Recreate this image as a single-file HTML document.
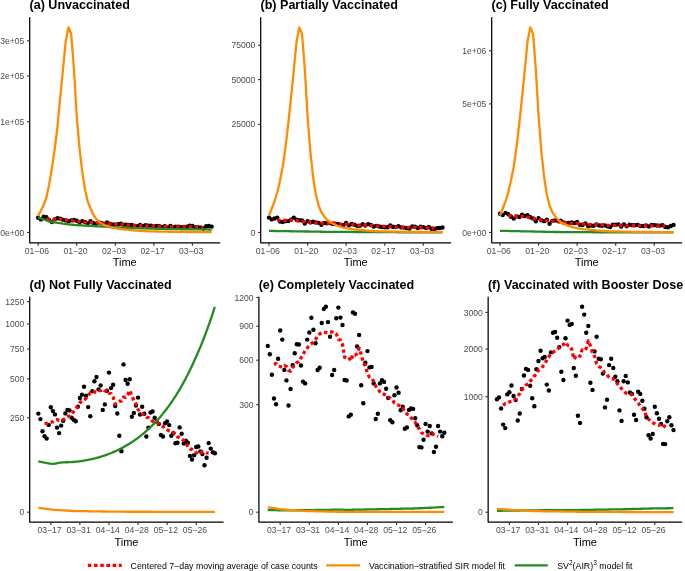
<!DOCTYPE html>
<html><head><meta charset="utf-8"><title>Figure</title>
<style>
html,body{margin:0;padding:0;background:#fff;}
body{width:685px;height:571px;overflow:hidden;}
svg{display:block;will-change:transform;}
text{font-family:"Liberation Sans", sans-serif;}
.tk{font-size:8.6px;fill:#4D4D4D;}
.at{font-size:11px;fill:#000;}
.ti{font-size:12.55px;font-weight:bold;fill:#000;}
.lg{font-size:8.8px;fill:#000;}
.sup{font-size:6.6px;}
</style></head><body>
<svg width="685" height="571" viewBox="0 0 685 571">
<rect width="685" height="571" fill="#fff"/>
<path d="M29.70 17.50 V242.75 H219.75" fill="none" stroke="#000" stroke-width="1.25" stroke-linecap="round" stroke-linejoin="round"/>
<line x1="27.06" y1="232.45" x2="29.70" y2="232.45" stroke="#333333" stroke-width="1.15"/>
<text x="24.30" y="235.60" text-anchor="end" class="tk">0e+00</text>
<line x1="27.06" y1="121.70" x2="29.70" y2="121.70" stroke="#333333" stroke-width="1.15"/>
<text x="24.30" y="124.85" text-anchor="end" class="tk">1e+05</text>
<line x1="27.06" y1="75.90" x2="29.70" y2="75.90" stroke="#333333" stroke-width="1.15"/>
<text x="24.30" y="79.05" text-anchor="end" class="tk">2e+05</text>
<line x1="27.06" y1="40.80" x2="29.70" y2="40.80" stroke="#333333" stroke-width="1.15"/>
<text x="24.30" y="43.95" text-anchor="end" class="tk">3e+05</text>
<line x1="38.15" y1="242.75" x2="38.15" y2="245.65" stroke="#333333" stroke-width="1.15"/>
<text x="36.90" y="254.05" text-anchor="middle" class="tk">01−06</text>
<line x1="76.71" y1="242.75" x2="76.71" y2="245.65" stroke="#333333" stroke-width="1.15"/>
<text x="75.46" y="254.05" text-anchor="middle" class="tk">01−20</text>
<line x1="115.28" y1="242.75" x2="115.28" y2="245.65" stroke="#333333" stroke-width="1.15"/>
<text x="114.03" y="254.05" text-anchor="middle" class="tk">02−03</text>
<line x1="153.84" y1="242.75" x2="153.84" y2="245.65" stroke="#333333" stroke-width="1.15"/>
<text x="152.59" y="254.05" text-anchor="middle" class="tk">02−17</text>
<line x1="192.40" y1="242.75" x2="192.40" y2="245.65" stroke="#333333" stroke-width="1.15"/>
<text x="191.15" y="254.05" text-anchor="middle" class="tk">03−03</text>
<text x="124.72" y="266.45" text-anchor="middle" class="at">Time</text>
<text x="29.50" y="9.00" class="ti">(a) Unvaccinated</text>
<g fill="#000">
<circle cx="38.15" cy="217.70" r="2.20"/>
<circle cx="40.90" cy="219.40" r="2.20"/>
<circle cx="43.66" cy="216.80" r="2.20"/>
<circle cx="46.41" cy="217.30" r="2.20"/>
<circle cx="49.17" cy="220.30" r="2.20"/>
<circle cx="51.92" cy="222.10" r="2.20"/>
<circle cx="54.68" cy="219.40" r="2.20"/>
<circle cx="57.43" cy="218.29" r="2.20"/>
<circle cx="60.19" cy="218.80" r="2.20"/>
<circle cx="62.94" cy="219.65" r="2.20"/>
<circle cx="65.69" cy="220.39" r="2.20"/>
<circle cx="68.45" cy="221.08" r="2.20"/>
<circle cx="71.20" cy="220.38" r="2.20"/>
<circle cx="73.96" cy="219.90" r="2.20"/>
<circle cx="76.71" cy="220.74" r="2.20"/>
<circle cx="79.47" cy="222.62" r="2.20"/>
<circle cx="82.22" cy="221.08" r="2.20"/>
<circle cx="84.98" cy="221.96" r="2.20"/>
<circle cx="87.73" cy="223.40" r="2.20"/>
<circle cx="90.49" cy="221.22" r="2.20"/>
<circle cx="93.24" cy="222.89" r="2.20"/>
<circle cx="95.99" cy="223.96" r="2.20"/>
<circle cx="98.75" cy="222.24" r="2.20"/>
<circle cx="101.50" cy="223.20" r="2.20"/>
<circle cx="104.26" cy="224.28" r="2.20"/>
<circle cx="107.01" cy="222.44" r="2.20"/>
<circle cx="109.77" cy="223.64" r="2.20"/>
<circle cx="112.52" cy="224.52" r="2.20"/>
<circle cx="115.28" cy="224.62" r="2.20"/>
<circle cx="118.03" cy="224.32" r="2.20"/>
<circle cx="120.78" cy="223.81" r="2.20"/>
<circle cx="123.54" cy="224.72" r="2.20"/>
<circle cx="126.29" cy="224.59" r="2.20"/>
<circle cx="129.05" cy="225.04" r="2.20"/>
<circle cx="131.80" cy="224.84" r="2.20"/>
<circle cx="134.56" cy="226.16" r="2.20"/>
<circle cx="137.31" cy="226.11" r="2.20"/>
<circle cx="140.07" cy="225.06" r="2.20"/>
<circle cx="142.82" cy="225.87" r="2.20"/>
<circle cx="145.58" cy="225.23" r="2.20"/>
<circle cx="148.33" cy="225.81" r="2.20"/>
<circle cx="151.08" cy="225.64" r="2.20"/>
<circle cx="153.84" cy="226.53" r="2.20"/>
<circle cx="156.59" cy="225.88" r="2.20"/>
<circle cx="159.35" cy="226.20" r="2.20"/>
<circle cx="162.10" cy="226.98" r="2.20"/>
<circle cx="164.86" cy="226.29" r="2.20"/>
<circle cx="167.61" cy="227.68" r="2.20"/>
<circle cx="170.37" cy="225.89" r="2.20"/>
<circle cx="173.12" cy="227.44" r="2.20"/>
<circle cx="175.88" cy="226.65" r="2.20"/>
<circle cx="178.63" cy="226.70" r="2.20"/>
<circle cx="181.38" cy="227.29" r="2.20"/>
<circle cx="184.14" cy="227.04" r="2.20"/>
<circle cx="186.89" cy="226.78" r="2.20"/>
<circle cx="189.65" cy="225.70" r="2.20"/>
<circle cx="192.40" cy="225.94" r="2.20"/>
<circle cx="195.16" cy="227.54" r="2.20"/>
<circle cx="197.91" cy="227.08" r="2.20"/>
<circle cx="200.67" cy="227.67" r="2.20"/>
<circle cx="203.42" cy="228.48" r="2.20"/>
<circle cx="206.17" cy="226.30" r="2.20"/>
<circle cx="208.93" cy="226.00" r="2.20"/>
<circle cx="211.68" cy="226.60" r="2.20"/>
</g>
<polyline points="46.41,218.60 49.17,219.05 51.92,219.25 54.68,219.40 57.43,219.40 60.19,219.40 62.94,219.65 65.69,219.92 68.45,220.29 71.20,220.69 73.96,221.03 76.71,221.29 79.47,221.55 82.22,221.82 84.98,222.09 87.73,222.28 90.49,222.46 93.24,222.63 95.99,222.79 98.75,222.94 101.50,223.08 104.26,223.22 107.01,223.40 109.77,223.58 112.52,223.87 115.28,224.18 118.03,224.41 120.78,224.58 123.54,224.75 126.29,224.93 129.05,225.10 131.80,225.19 134.56,225.28 137.31,225.41 140.07,225.54 142.82,225.68 145.58,225.82 148.33,225.93 151.08,226.03 153.84,226.12 156.59,226.21 159.35,226.31 162.10,226.41 164.86,226.51 167.61,226.62 170.37,226.72 173.12,226.81 175.88,226.85 178.63,226.90 181.38,226.94 184.14,226.98 186.89,227.00 189.65,227.00 192.40,227.00 195.16,227.00 197.91,227.02 200.67,227.16 203.42,227.30" fill="none" stroke="#FF0000" stroke-width="3.3" stroke-dasharray="3.4 2.8" stroke-linejoin="round"/>
<polyline points="38.15,217.60 40.90,218.53 43.66,219.48 46.41,220.34 49.17,221.19 51.92,221.84 54.68,222.30 57.43,222.76 60.19,223.23 62.94,223.69 65.69,224.01 68.45,224.28 71.20,224.55 73.96,224.82 76.71,225.09 79.47,225.26 82.22,225.42 84.98,225.58 87.73,225.74 90.49,225.90 93.24,226.06 95.99,226.23 98.75,226.39 101.50,226.55 104.26,226.71 107.01,226.87 109.77,227.02 112.52,227.16 115.28,227.30 118.03,227.44 120.78,227.58 123.54,227.72 126.29,227.84 129.05,227.93 131.80,228.02 134.56,228.11 137.31,228.19 140.07,228.28 142.82,228.37 145.58,228.46 148.33,228.55 151.08,228.62 153.84,228.68 156.59,228.74 159.35,228.80 162.10,228.86 164.86,228.92 167.61,228.98 170.37,229.04 173.12,229.10 175.88,229.16 178.63,229.21 181.38,229.23 184.14,229.26 186.89,229.28 189.65,229.31 192.40,229.33 195.16,229.35 197.91,229.38 200.67,229.40 203.42,229.43 206.17,229.45 208.93,229.48 211.68,229.50" fill="none" stroke="#228B22" stroke-width="2.30" stroke-linejoin="round" stroke-linecap="butt"/>
<polyline points="38.15,216.30 40.90,210.50 43.66,205.00 46.41,197.50 49.17,184.50 51.92,168.00 54.68,149.50 57.43,127.50 60.19,97.50 62.94,70.00 65.69,41.50 68.45,27.30 71.20,34.00 73.96,69.00 76.71,116.00 79.47,148.00 82.22,171.40 84.98,189.50 87.73,201.50 90.49,208.50 93.24,214.50 95.99,218.50 98.75,221.50 101.50,223.70 104.26,225.20 107.01,226.20 109.77,227.00 112.52,227.60 115.28,228.20 118.03,228.65 120.78,229.10 123.54,229.38 126.29,229.66 129.05,229.94 131.80,230.22 134.56,230.50 137.31,230.66 140.07,230.82 142.82,230.98 145.58,231.14 148.33,231.30 151.08,231.36 153.84,231.42 156.59,231.48 159.35,231.54 162.10,231.60 164.86,231.66 167.61,231.72 170.37,231.78 173.12,231.84 175.88,231.90 178.63,231.92 181.38,231.95 184.14,231.97 186.89,231.99 189.65,232.02 192.40,232.04 195.16,232.06 197.91,232.08 200.67,232.11 203.42,232.13 206.17,232.15 208.93,232.18 211.68,232.20" fill="none" stroke="#FF8C00" stroke-width="2.30" stroke-linejoin="round" stroke-linecap="butt"/>
<path d="M260.70 17.50 V242.75 H450.60" fill="none" stroke="#000" stroke-width="1.25" stroke-linecap="round" stroke-linejoin="round"/>
<line x1="258.06" y1="232.45" x2="260.70" y2="232.45" stroke="#333333" stroke-width="1.15"/>
<text x="255.30" y="235.60" text-anchor="end" class="tk">0</text>
<line x1="258.06" y1="124.30" x2="260.70" y2="124.30" stroke="#333333" stroke-width="1.15"/>
<text x="255.30" y="127.45" text-anchor="end" class="tk">25000</text>
<line x1="258.06" y1="79.60" x2="260.70" y2="79.60" stroke="#333333" stroke-width="1.15"/>
<text x="255.30" y="82.75" text-anchor="end" class="tk">50000</text>
<line x1="258.06" y1="45.30" x2="260.70" y2="45.30" stroke="#333333" stroke-width="1.15"/>
<text x="255.30" y="48.45" text-anchor="end" class="tk">75000</text>
<line x1="269.00" y1="242.75" x2="269.00" y2="245.65" stroke="#333333" stroke-width="1.15"/>
<text x="267.75" y="254.05" text-anchor="middle" class="tk">01−06</text>
<line x1="307.56" y1="242.75" x2="307.56" y2="245.65" stroke="#333333" stroke-width="1.15"/>
<text x="306.31" y="254.05" text-anchor="middle" class="tk">01−20</text>
<line x1="346.13" y1="242.75" x2="346.13" y2="245.65" stroke="#333333" stroke-width="1.15"/>
<text x="344.88" y="254.05" text-anchor="middle" class="tk">02−03</text>
<line x1="384.69" y1="242.75" x2="384.69" y2="245.65" stroke="#333333" stroke-width="1.15"/>
<text x="383.44" y="254.05" text-anchor="middle" class="tk">02−17</text>
<line x1="423.25" y1="242.75" x2="423.25" y2="245.65" stroke="#333333" stroke-width="1.15"/>
<text x="422.00" y="254.05" text-anchor="middle" class="tk">03−03</text>
<text x="355.65" y="266.45" text-anchor="middle" class="at">Time</text>
<text x="260.50" y="9.00" class="ti">(b) Partially Vaccinated</text>
<g fill="#000">
<circle cx="269.00" cy="217.60" r="2.20"/>
<circle cx="271.75" cy="219.40" r="2.20"/>
<circle cx="274.51" cy="218.50" r="2.20"/>
<circle cx="277.26" cy="217.60" r="2.20"/>
<circle cx="280.02" cy="221.60" r="2.20"/>
<circle cx="282.77" cy="222.00" r="2.20"/>
<circle cx="285.53" cy="221.17" r="2.20"/>
<circle cx="288.28" cy="221.10" r="2.20"/>
<circle cx="291.04" cy="219.61" r="2.20"/>
<circle cx="293.79" cy="217.60" r="2.20"/>
<circle cx="296.55" cy="219.80" r="2.20"/>
<circle cx="299.30" cy="220.30" r="2.20"/>
<circle cx="302.05" cy="220.46" r="2.20"/>
<circle cx="304.81" cy="223.60" r="2.20"/>
<circle cx="307.56" cy="221.10" r="2.20"/>
<circle cx="310.32" cy="222.40" r="2.20"/>
<circle cx="313.07" cy="221.81" r="2.20"/>
<circle cx="315.83" cy="222.40" r="2.20"/>
<circle cx="318.58" cy="222.86" r="2.20"/>
<circle cx="321.34" cy="224.80" r="2.20"/>
<circle cx="324.09" cy="222.90" r="2.20"/>
<circle cx="326.84" cy="223.23" r="2.20"/>
<circle cx="329.60" cy="223.07" r="2.20"/>
<circle cx="332.35" cy="223.74" r="2.20"/>
<circle cx="335.11" cy="224.07" r="2.20"/>
<circle cx="337.86" cy="224.06" r="2.20"/>
<circle cx="340.62" cy="224.89" r="2.20"/>
<circle cx="343.37" cy="225.32" r="2.20"/>
<circle cx="346.13" cy="223.06" r="2.20"/>
<circle cx="348.88" cy="225.38" r="2.20"/>
<circle cx="351.63" cy="224.05" r="2.20"/>
<circle cx="354.39" cy="224.79" r="2.20"/>
<circle cx="357.14" cy="225.85" r="2.20"/>
<circle cx="359.90" cy="225.86" r="2.20"/>
<circle cx="362.65" cy="224.29" r="2.20"/>
<circle cx="365.41" cy="225.53" r="2.20"/>
<circle cx="368.16" cy="224.12" r="2.20"/>
<circle cx="370.92" cy="225.05" r="2.20"/>
<circle cx="373.67" cy="226.50" r="2.20"/>
<circle cx="376.43" cy="225.83" r="2.20"/>
<circle cx="379.18" cy="226.57" r="2.20"/>
<circle cx="381.93" cy="226.94" r="2.20"/>
<circle cx="384.69" cy="227.22" r="2.20"/>
<circle cx="387.44" cy="227.25" r="2.20"/>
<circle cx="390.20" cy="225.52" r="2.20"/>
<circle cx="392.95" cy="226.78" r="2.20"/>
<circle cx="395.71" cy="227.09" r="2.20"/>
<circle cx="398.46" cy="226.14" r="2.20"/>
<circle cx="401.22" cy="227.41" r="2.20"/>
<circle cx="403.97" cy="227.58" r="2.20"/>
<circle cx="406.73" cy="228.15" r="2.20"/>
<circle cx="409.48" cy="228.45" r="2.20"/>
<circle cx="412.23" cy="226.42" r="2.20"/>
<circle cx="414.99" cy="226.77" r="2.20"/>
<circle cx="417.74" cy="228.01" r="2.20"/>
<circle cx="420.50" cy="226.78" r="2.20"/>
<circle cx="423.25" cy="227.08" r="2.20"/>
<circle cx="426.01" cy="227.99" r="2.20"/>
<circle cx="428.76" cy="226.98" r="2.20"/>
<circle cx="431.52" cy="228.70" r="2.20"/>
<circle cx="434.27" cy="229.03" r="2.20"/>
<circle cx="437.02" cy="228.30" r="2.20"/>
<circle cx="439.78" cy="228.00" r="2.20"/>
<circle cx="442.53" cy="227.50" r="2.20"/>
</g>
<polyline points="277.26,219.60 280.02,220.30 282.77,220.30 285.53,220.29 288.28,220.20 291.04,220.11 293.79,220.36 296.55,220.65 299.30,221.02 302.05,221.40 304.81,221.77 307.56,222.12 310.32,222.45 313.07,222.68 315.83,222.90 318.58,222.99 321.34,223.08 324.09,223.13 326.84,223.17 329.60,223.18 332.35,223.01 335.11,223.06 337.86,223.60 340.62,224.11 343.37,224.18 346.13,224.26 348.88,224.40 351.63,224.63 354.39,224.86 357.14,225.08 359.90,225.30 362.65,225.21 365.41,225.12 368.16,225.24 370.92,225.42 373.67,225.69 376.43,226.02 379.18,226.31 381.93,226.35 384.69,226.39 387.44,226.57 390.20,226.80 392.95,226.99 395.71,227.18 398.46,227.30 401.22,227.30 403.97,227.30 406.73,227.30 409.48,227.30 412.23,227.38 414.99,227.47 417.74,227.60 420.50,227.73 423.25,227.80 426.01,227.80 428.76,227.84 431.52,227.97 434.27,228.10" fill="none" stroke="#FF0000" stroke-width="3.3" stroke-dasharray="3.4 2.8" stroke-linejoin="round"/>
<polyline points="269.00,230.90 271.75,230.94 274.51,230.99 277.26,231.03 280.02,231.08 282.77,231.12 285.53,231.17 288.28,231.21 291.04,231.25 293.79,231.30 296.55,231.34 299.30,231.39 302.05,231.43 304.81,231.48 307.56,231.52 310.32,231.56 313.07,231.61 315.83,231.65 318.58,231.70 321.34,231.74 324.09,231.79 326.84,231.81 329.60,231.83 332.35,231.85 335.11,231.86 337.86,231.88 340.62,231.90 343.37,231.91 346.13,231.93 348.88,231.95 351.63,231.96 354.39,231.98 357.14,232.00 359.90,232.01 362.65,232.03 365.41,232.05 368.16,232.07 370.92,232.08 373.67,232.10 376.43,232.12 379.18,232.13 381.93,232.15 384.69,232.17 387.44,232.18 390.20,232.20 392.95,232.21 395.71,232.22 398.46,232.23 401.22,232.24 403.97,232.25 406.73,232.26 409.48,232.27 412.23,232.28 414.99,232.30 417.74,232.31 420.50,232.32 423.25,232.33 426.01,232.34 428.76,232.35 431.52,232.36 434.27,232.37 437.02,232.38 439.78,232.39 442.53,232.40" fill="none" stroke="#228B22" stroke-width="2.30" stroke-linejoin="round" stroke-linecap="butt"/>
<polyline points="269.00,215.50 271.75,208.50 274.51,201.50 277.26,192.50 280.02,180.50 282.77,166.50 285.53,146.80 288.28,123.50 291.04,97.50 293.79,70.00 296.55,41.50 299.30,27.30 302.05,34.00 304.81,69.00 307.56,116.00 310.32,151.00 313.07,176.50 315.83,194.50 318.58,205.50 321.34,212.20 324.09,216.40 326.84,219.50 329.60,221.80 332.35,223.50 335.11,224.70 337.86,225.90 340.62,226.80 343.37,227.60 346.13,228.20 348.88,228.65 351.63,229.10 354.39,229.38 357.14,229.66 359.90,229.94 362.65,230.22 365.41,230.50 368.16,230.66 370.92,230.82 373.67,230.98 376.43,231.14 379.18,231.30 381.93,231.36 384.69,231.42 387.44,231.48 390.20,231.54 392.95,231.60 395.71,231.66 398.46,231.72 401.22,231.78 403.97,231.84 406.73,231.90 409.48,231.92 412.23,231.95 414.99,231.97 417.74,231.99 420.50,232.02 423.25,232.04 426.01,232.06 428.76,232.08 431.52,232.11 434.27,232.13 437.02,232.15 439.78,232.18 442.53,232.20" fill="none" stroke="#FF8C00" stroke-width="2.30" stroke-linejoin="round" stroke-linecap="butt"/>
<path d="M491.70 17.50 V242.75 H681.60" fill="none" stroke="#000" stroke-width="1.25" stroke-linecap="round" stroke-linejoin="round"/>
<line x1="489.06" y1="232.45" x2="491.70" y2="232.45" stroke="#333333" stroke-width="1.15"/>
<text x="486.30" y="235.60" text-anchor="end" class="tk">0e+00</text>
<line x1="489.06" y1="103.90" x2="491.70" y2="103.90" stroke="#333333" stroke-width="1.15"/>
<text x="486.30" y="107.05" text-anchor="end" class="tk">5e+05</text>
<line x1="489.06" y1="50.70" x2="491.70" y2="50.70" stroke="#333333" stroke-width="1.15"/>
<text x="486.30" y="53.85" text-anchor="end" class="tk">1e+06</text>
<line x1="500.00" y1="242.75" x2="500.00" y2="245.65" stroke="#333333" stroke-width="1.15"/>
<text x="498.75" y="254.05" text-anchor="middle" class="tk">01−06</text>
<line x1="538.56" y1="242.75" x2="538.56" y2="245.65" stroke="#333333" stroke-width="1.15"/>
<text x="537.31" y="254.05" text-anchor="middle" class="tk">01−20</text>
<line x1="577.13" y1="242.75" x2="577.13" y2="245.65" stroke="#333333" stroke-width="1.15"/>
<text x="575.88" y="254.05" text-anchor="middle" class="tk">02−03</text>
<line x1="615.69" y1="242.75" x2="615.69" y2="245.65" stroke="#333333" stroke-width="1.15"/>
<text x="614.44" y="254.05" text-anchor="middle" class="tk">02−17</text>
<line x1="654.25" y1="242.75" x2="654.25" y2="245.65" stroke="#333333" stroke-width="1.15"/>
<text x="653.00" y="254.05" text-anchor="middle" class="tk">03−03</text>
<text x="586.65" y="266.45" text-anchor="middle" class="at">Time</text>
<text x="491.50" y="9.00" class="ti">(c) Fully Vaccinated</text>
<g fill="#000">
<circle cx="500.00" cy="213.80" r="2.20"/>
<circle cx="502.75" cy="215.10" r="2.20"/>
<circle cx="505.51" cy="212.90" r="2.20"/>
<circle cx="508.26" cy="214.20" r="2.20"/>
<circle cx="511.02" cy="216.73" r="2.20"/>
<circle cx="513.77" cy="218.60" r="2.20"/>
<circle cx="516.53" cy="216.40" r="2.20"/>
<circle cx="519.28" cy="216.97" r="2.20"/>
<circle cx="522.04" cy="214.60" r="2.20"/>
<circle cx="524.79" cy="215.93" r="2.20"/>
<circle cx="527.54" cy="215.10" r="2.20"/>
<circle cx="530.30" cy="217.30" r="2.20"/>
<circle cx="533.05" cy="218.44" r="2.20"/>
<circle cx="535.81" cy="221.20" r="2.20"/>
<circle cx="538.56" cy="218.10" r="2.20"/>
<circle cx="541.32" cy="220.30" r="2.20"/>
<circle cx="544.07" cy="221.13" r="2.20"/>
<circle cx="546.83" cy="219.63" r="2.20"/>
<circle cx="549.58" cy="223.80" r="2.20"/>
<circle cx="552.34" cy="220.92" r="2.20"/>
<circle cx="555.09" cy="220.39" r="2.20"/>
<circle cx="557.84" cy="220.87" r="2.20"/>
<circle cx="560.60" cy="220.82" r="2.20"/>
<circle cx="563.35" cy="222.44" r="2.20"/>
<circle cx="566.11" cy="223.22" r="2.20"/>
<circle cx="568.86" cy="222.87" r="2.20"/>
<circle cx="571.62" cy="222.45" r="2.20"/>
<circle cx="574.37" cy="222.96" r="2.20"/>
<circle cx="577.13" cy="221.90" r="2.20"/>
<circle cx="579.88" cy="224.72" r="2.20"/>
<circle cx="582.63" cy="225.06" r="2.20"/>
<circle cx="585.39" cy="223.36" r="2.20"/>
<circle cx="588.14" cy="226.00" r="2.20"/>
<circle cx="590.90" cy="225.46" r="2.20"/>
<circle cx="593.65" cy="225.71" r="2.20"/>
<circle cx="596.41" cy="224.49" r="2.20"/>
<circle cx="599.16" cy="225.44" r="2.20"/>
<circle cx="601.92" cy="225.82" r="2.20"/>
<circle cx="604.67" cy="225.34" r="2.20"/>
<circle cx="607.43" cy="226.23" r="2.20"/>
<circle cx="610.18" cy="227.00" r="2.20"/>
<circle cx="612.93" cy="224.81" r="2.20"/>
<circle cx="615.69" cy="224.82" r="2.20"/>
<circle cx="618.44" cy="224.41" r="2.20"/>
<circle cx="621.20" cy="226.47" r="2.20"/>
<circle cx="623.95" cy="224.38" r="2.20"/>
<circle cx="626.71" cy="226.26" r="2.20"/>
<circle cx="629.46" cy="224.67" r="2.20"/>
<circle cx="632.22" cy="225.21" r="2.20"/>
<circle cx="634.97" cy="225.23" r="2.20"/>
<circle cx="637.73" cy="224.83" r="2.20"/>
<circle cx="640.48" cy="225.94" r="2.20"/>
<circle cx="643.23" cy="225.99" r="2.20"/>
<circle cx="645.99" cy="225.42" r="2.20"/>
<circle cx="648.74" cy="226.52" r="2.20"/>
<circle cx="651.50" cy="225.02" r="2.20"/>
<circle cx="654.25" cy="225.10" r="2.20"/>
<circle cx="657.01" cy="225.52" r="2.20"/>
<circle cx="659.76" cy="225.58" r="2.20"/>
<circle cx="662.52" cy="225.14" r="2.20"/>
<circle cx="665.27" cy="227.00" r="2.20"/>
<circle cx="668.02" cy="227.20" r="2.20"/>
<circle cx="670.78" cy="226.00" r="2.20"/>
<circle cx="673.53" cy="224.90" r="2.20"/>
</g>
<polyline points="508.26,215.20 511.02,215.66 513.77,216.07 516.53,216.40 519.28,216.40 522.04,216.40 524.79,216.79 527.54,217.19 530.30,217.73 533.05,218.31 535.81,218.85 538.56,219.35 541.32,219.85 544.07,220.33 546.83,220.81 549.58,221.04 552.34,221.28 555.09,221.53 557.84,221.78 560.60,222.06 563.35,222.38 566.11,222.70 568.86,223.06 571.62,223.40 574.37,223.40 577.13,223.40 579.88,223.57 582.63,223.78 585.39,224.03 588.14,224.35 590.90,224.60 593.65,224.60 596.41,224.60 599.16,224.73 601.92,224.87 604.67,225.05 607.43,225.26 610.18,225.40 612.93,225.40 615.69,225.40 618.44,225.40 621.20,225.40 623.95,225.61 626.71,225.81 629.46,225.78 632.22,225.57 634.97,225.44 637.73,225.66 640.48,225.88 643.23,225.90 645.99,225.90 648.74,225.90 651.50,225.90 654.25,225.90 657.01,225.90 659.76,225.90 662.52,225.90 665.27,225.90" fill="none" stroke="#FF0000" stroke-width="3.3" stroke-dasharray="3.4 2.8" stroke-linejoin="round"/>
<polyline points="500.00,230.80 502.75,230.85 505.51,230.91 508.26,230.97 511.02,231.04 513.77,231.10 516.53,231.16 519.28,231.22 522.04,231.28 524.79,231.34 527.54,231.40 530.30,231.46 533.05,231.52 535.81,231.58 538.56,231.64 541.32,231.70 544.07,231.76 546.83,231.82 549.58,231.88 552.34,231.94 555.09,232.00 557.84,232.02 560.60,232.03 563.35,232.05 566.11,232.07 568.86,232.09 571.62,232.10 574.37,232.12 577.13,232.14 579.88,232.15 582.63,232.17 585.39,232.19 588.14,232.20 590.90,232.22 593.65,232.24 596.41,232.25 599.16,232.27 601.92,232.29 604.67,232.31 607.43,232.32 610.18,232.34 612.93,232.36 615.69,232.37 618.44,232.39 621.20,232.40 623.95,232.40 626.71,232.40 629.46,232.40 632.22,232.40 634.97,232.40 637.73,232.40 640.48,232.40 643.23,232.40 645.99,232.40 648.74,232.40 651.50,232.40 654.25,232.40 657.01,232.40 659.76,232.40 662.52,232.40 665.27,232.40 668.02,232.40 670.78,232.40 673.53,232.40" fill="none" stroke="#228B22" stroke-width="2.30" stroke-linejoin="round" stroke-linecap="butt"/>
<polyline points="500.00,215.50 502.75,208.50 505.51,201.50 508.26,192.50 511.02,180.50 513.77,166.50 516.53,146.80 519.28,123.50 522.04,97.50 524.79,70.00 527.54,41.50 530.30,27.30 533.05,34.00 535.81,69.00 538.56,116.00 541.32,151.00 544.07,176.50 546.83,194.50 549.58,205.50 552.34,212.20 555.09,216.40 557.84,219.50 560.60,221.80 563.35,223.50 566.11,224.70 568.86,225.90 571.62,226.80 574.37,227.60 577.13,228.20 579.88,228.65 582.63,229.10 585.39,229.38 588.14,229.66 590.90,229.94 593.65,230.22 596.41,230.50 599.16,230.66 601.92,230.82 604.67,230.98 607.43,231.14 610.18,231.30 612.93,231.36 615.69,231.42 618.44,231.48 621.20,231.54 623.95,231.60 626.71,231.66 629.46,231.72 632.22,231.78 634.97,231.84 637.73,231.90 640.48,231.92 643.23,231.95 645.99,231.97 648.74,231.99 651.50,232.02 654.25,232.04 657.01,232.06 659.76,232.08 662.52,232.11 665.27,232.13 668.02,232.15 670.78,232.18 673.53,232.20" fill="none" stroke="#FF8C00" stroke-width="2.30" stroke-linejoin="round" stroke-linecap="butt"/>
<path d="M29.70 297.20 V522.10 H223.13" fill="none" stroke="#000" stroke-width="1.25" stroke-linecap="round" stroke-linejoin="round"/>
<line x1="27.06" y1="512.20" x2="29.70" y2="512.20" stroke="#333333" stroke-width="1.15"/>
<text x="24.30" y="515.35" text-anchor="end" class="tk">0</text>
<line x1="27.06" y1="417.80" x2="29.70" y2="417.80" stroke="#333333" stroke-width="1.15"/>
<text x="24.30" y="420.95" text-anchor="end" class="tk">250</text>
<line x1="27.06" y1="378.90" x2="29.70" y2="378.90" stroke="#333333" stroke-width="1.15"/>
<text x="24.30" y="382.05" text-anchor="end" class="tk">500</text>
<line x1="27.06" y1="349.00" x2="29.70" y2="349.00" stroke="#333333" stroke-width="1.15"/>
<text x="24.30" y="352.15" text-anchor="end" class="tk">750</text>
<line x1="27.06" y1="323.90" x2="29.70" y2="323.90" stroke="#333333" stroke-width="1.15"/>
<text x="24.30" y="327.05" text-anchor="end" class="tk">1000</text>
<line x1="27.06" y1="301.70" x2="29.70" y2="301.70" stroke="#333333" stroke-width="1.15"/>
<text x="24.30" y="304.85" text-anchor="end" class="tk">1250</text>
<line x1="50.80" y1="522.10" x2="50.80" y2="525.00" stroke="#333333" stroke-width="1.15"/>
<text x="49.55" y="533.40" text-anchor="middle" class="tk">03−17</text>
<line x1="79.88" y1="522.10" x2="79.88" y2="525.00" stroke="#333333" stroke-width="1.15"/>
<text x="78.63" y="533.40" text-anchor="middle" class="tk">03−31</text>
<line x1="108.96" y1="522.10" x2="108.96" y2="525.00" stroke="#333333" stroke-width="1.15"/>
<text x="107.71" y="533.40" text-anchor="middle" class="tk">04−14</text>
<line x1="138.04" y1="522.10" x2="138.04" y2="525.00" stroke="#333333" stroke-width="1.15"/>
<text x="136.79" y="533.40" text-anchor="middle" class="tk">04−28</text>
<line x1="167.11" y1="522.10" x2="167.11" y2="525.00" stroke="#333333" stroke-width="1.15"/>
<text x="165.86" y="533.40" text-anchor="middle" class="tk">05−12</text>
<line x1="196.19" y1="522.10" x2="196.19" y2="525.00" stroke="#333333" stroke-width="1.15"/>
<text x="194.94" y="533.40" text-anchor="middle" class="tk">05−26</text>
<text x="126.42" y="545.80" text-anchor="middle" class="at">Time</text>
<text x="29.50" y="288.50" class="ti">(d) Not Fully Vaccinated</text>
<g fill="#000">
<circle cx="38.34" cy="413.60" r="2.20"/>
<circle cx="40.42" cy="419.10" r="2.20"/>
<circle cx="42.49" cy="431.20" r="2.20"/>
<circle cx="44.57" cy="436.30" r="2.20"/>
<circle cx="46.65" cy="438.60" r="2.20"/>
<circle cx="48.73" cy="424.90" r="2.20"/>
<circle cx="50.80" cy="407.30" r="2.20"/>
<circle cx="52.88" cy="411.10" r="2.20"/>
<circle cx="54.96" cy="414.40" r="2.20"/>
<circle cx="57.03" cy="427.60" r="2.20"/>
<circle cx="59.11" cy="433.10" r="2.20"/>
<circle cx="61.19" cy="425.60" r="2.20"/>
<circle cx="63.26" cy="420.70" r="2.20"/>
<circle cx="65.34" cy="413.40" r="2.20"/>
<circle cx="67.42" cy="410.00" r="2.20"/>
<circle cx="69.50" cy="410.40" r="2.20"/>
<circle cx="71.57" cy="417.80" r="2.20"/>
<circle cx="73.65" cy="419.70" r="2.20"/>
<circle cx="75.73" cy="421.30" r="2.20"/>
<circle cx="77.80" cy="406.80" r="2.20"/>
<circle cx="79.88" cy="398.00" r="2.20"/>
<circle cx="81.96" cy="394.80" r="2.20"/>
<circle cx="84.03" cy="386.80" r="2.20"/>
<circle cx="86.11" cy="395.70" r="2.20"/>
<circle cx="88.19" cy="407.10" r="2.20"/>
<circle cx="90.27" cy="416.20" r="2.20"/>
<circle cx="92.34" cy="391.30" r="2.20"/>
<circle cx="94.42" cy="381.20" r="2.20"/>
<circle cx="96.50" cy="377.00" r="2.20"/>
<circle cx="98.57" cy="389.40" r="2.20"/>
<circle cx="100.65" cy="385.40" r="2.20"/>
<circle cx="102.73" cy="409.90" r="2.20"/>
<circle cx="104.80" cy="404.40" r="2.20"/>
<circle cx="106.88" cy="390.70" r="2.20"/>
<circle cx="108.96" cy="372.60" r="2.20"/>
<circle cx="111.03" cy="388.10" r="2.20"/>
<circle cx="113.11" cy="384.70" r="2.20"/>
<circle cx="115.19" cy="406.00" r="2.20"/>
<circle cx="117.27" cy="413.50" r="2.20"/>
<circle cx="119.34" cy="435.70" r="2.20"/>
<circle cx="121.42" cy="451.30" r="2.20"/>
<circle cx="123.50" cy="364.40" r="2.20"/>
<circle cx="125.57" cy="380.00" r="2.20"/>
<circle cx="127.65" cy="383.70" r="2.20"/>
<circle cx="129.73" cy="379.20" r="2.20"/>
<circle cx="131.81" cy="416.70" r="2.20"/>
<circle cx="133.88" cy="413.00" r="2.20"/>
<circle cx="135.96" cy="405.50" r="2.20"/>
<circle cx="138.04" cy="397.60" r="2.20"/>
<circle cx="140.11" cy="414.50" r="2.20"/>
<circle cx="142.19" cy="406.70" r="2.20"/>
<circle cx="144.27" cy="413.80" r="2.20"/>
<circle cx="146.34" cy="436.50" r="2.20"/>
<circle cx="148.42" cy="427.60" r="2.20"/>
<circle cx="150.50" cy="412.50" r="2.20"/>
<circle cx="152.57" cy="411.50" r="2.20"/>
<circle cx="154.65" cy="417.80" r="2.20"/>
<circle cx="156.73" cy="421.50" r="2.20"/>
<circle cx="158.81" cy="424.00" r="2.20"/>
<circle cx="160.88" cy="435.00" r="2.20"/>
<circle cx="162.96" cy="436.50" r="2.20"/>
<circle cx="165.04" cy="423.20" r="2.20"/>
<circle cx="167.11" cy="421.50" r="2.20"/>
<circle cx="169.19" cy="425.10" r="2.20"/>
<circle cx="171.27" cy="435.70" r="2.20"/>
<circle cx="173.34" cy="433.30" r="2.20"/>
<circle cx="175.42" cy="443.30" r="2.20"/>
<circle cx="177.50" cy="442.80" r="2.20"/>
<circle cx="179.58" cy="427.40" r="2.20"/>
<circle cx="181.65" cy="433.80" r="2.20"/>
<circle cx="183.73" cy="443.40" r="2.20"/>
<circle cx="185.81" cy="440.80" r="2.20"/>
<circle cx="187.88" cy="442.70" r="2.20"/>
<circle cx="189.96" cy="455.90" r="2.20"/>
<circle cx="192.04" cy="459.50" r="2.20"/>
<circle cx="194.12" cy="455.20" r="2.20"/>
<circle cx="196.19" cy="447.00" r="2.20"/>
<circle cx="198.27" cy="446.50" r="2.20"/>
<circle cx="200.35" cy="451.40" r="2.20"/>
<circle cx="202.42" cy="454.10" r="2.20"/>
<circle cx="204.50" cy="465.20" r="2.20"/>
<circle cx="206.58" cy="457.80" r="2.20"/>
<circle cx="208.65" cy="443.10" r="2.20"/>
<circle cx="210.73" cy="448.60" r="2.20"/>
<circle cx="212.81" cy="452.30" r="2.20"/>
<circle cx="214.88" cy="453.30" r="2.20"/>
</g>
<polyline points="44.57,423.75 46.65,423.35 48.73,422.63 50.80,422.16 52.88,421.77 54.96,420.14 57.03,419.56 59.11,420.52 61.19,420.35 63.26,419.73 65.34,418.38 67.42,416.65 69.50,416.08 71.57,414.07 73.65,411.71 75.73,409.36 77.80,405.70 79.88,402.62 81.96,401.01 84.03,400.40 86.11,398.18 88.19,395.63 90.27,392.90 92.34,393.29 94.42,391.80 96.50,392.14 98.57,390.72 100.65,390.63 102.73,389.27 104.80,390.96 106.88,390.27 108.96,393.11 111.03,393.54 113.11,397.07 115.19,404.13 117.27,402.59 119.34,401.24 121.42,401.08 123.50,397.03 125.57,397.41 127.65,394.96 129.73,390.38 131.81,395.60 133.88,400.57 135.96,404.07 138.04,409.49 140.11,411.88 142.19,413.81 144.27,414.86 146.34,417.08 148.42,417.56 150.50,419.78 152.57,421.26 154.65,421.08 156.73,422.21 158.81,423.82 160.88,425.39 162.96,426.48 165.04,428.49 167.11,429.82 169.19,430.88 171.27,431.69 173.34,432.34 175.42,434.22 177.50,436.88 179.58,437.60 181.65,438.94 183.73,440.50 185.81,442.56 187.88,446.73 189.96,448.83 192.04,449.30 194.12,450.91 196.19,452.63 198.27,453.80 200.35,453.57 202.42,451.74 204.50,451.99 206.58,452.86 208.65,453.13" fill="none" stroke="#FF0000" stroke-width="3.3" stroke-dasharray="3.4 2.8" stroke-linejoin="round"/>
<polyline points="38.30,461.40 39.57,461.66 40.84,461.92 42.11,462.17 43.38,462.41 44.65,462.66 45.92,462.90 47.19,463.11 48.46,463.33 49.73,463.55 51.00,463.72 52.27,463.80 53.54,463.78 54.81,463.71 56.08,463.51 57.35,463.05 58.62,462.81 59.89,462.68 61.16,462.56 62.43,462.44 63.70,462.31 64.97,462.28 66.24,462.26 67.51,462.23 68.77,462.19 70.04,462.13 71.31,462.06 72.58,461.98 73.85,461.88 75.12,461.77 76.39,461.65 77.66,461.52 78.93,461.37 80.20,461.21 81.47,461.04 82.74,460.85 84.01,460.65 85.28,460.44 86.55,460.21 87.82,459.97 89.09,459.72 90.36,459.45 91.63,459.17 92.90,458.88 94.17,458.57 95.44,458.25 96.71,457.91 97.98,457.56 99.25,457.20 100.52,456.82 101.79,456.42 103.06,456.01 104.33,455.59 105.60,455.15 106.87,454.69 108.14,454.22 109.41,453.73 110.68,453.23 111.95,452.71 113.22,452.17 114.49,451.61 115.76,451.04 117.03,450.45 118.30,449.84 119.57,449.22 120.84,448.57 122.11,447.91 123.38,447.22 124.65,446.52 125.92,445.80 127.18,445.05 128.45,444.29 129.72,443.50 130.99,442.69 132.26,441.86 133.53,441.01 134.80,440.13 136.07,439.23 137.34,438.31 138.61,437.36 139.88,436.39 141.15,435.39 142.42,434.36 143.69,433.31 144.96,432.23 146.23,431.12 147.50,429.98 148.77,428.82 150.04,427.62 151.31,426.40 152.58,425.14 153.85,423.85 155.12,422.53 156.39,421.17 157.66,419.78 158.93,418.36 160.20,416.90 161.47,415.40 162.74,413.87 164.01,412.29 165.28,410.68 166.55,409.03 167.82,407.34 169.09,405.60 170.36,403.82 171.63,402.00 172.90,400.13 174.17,398.22 175.44,396.26 176.71,394.25 177.98,392.19 179.25,390.08 180.52,387.92 181.79,385.70 183.06,383.43 184.33,381.11 185.59,378.73 186.86,376.29 188.13,373.79 189.40,371.23 190.67,368.60 191.94,365.91 193.21,363.16 194.48,360.34 195.75,357.54 197.02,354.72 198.29,351.83 199.56,348.87 200.83,345.84 202.10,342.72 203.37,339.53 204.64,336.25 205.91,332.90 207.18,329.45 208.45,325.92 209.72,322.31 210.99,318.60 212.26,314.79 213.53,310.90 214.80,306.90" fill="none" stroke="#228B22" stroke-width="2.30" stroke-linejoin="round" stroke-linecap="butt"/>
<polyline points="38.34,507.90 40.42,508.16 42.49,508.42 44.57,508.68 46.65,508.95 48.73,509.21 50.80,509.47 52.88,509.67 54.96,509.81 57.03,509.95 59.11,510.08 61.19,510.22 63.26,510.36 65.34,510.50 67.42,510.62 69.50,510.75 71.57,510.88 73.65,511.00 75.73,511.04 77.80,511.07 79.88,511.11 81.96,511.14 84.03,511.18 86.11,511.21 88.19,511.25 90.27,511.29 92.34,511.32 94.42,511.36 96.50,511.39 98.57,511.43 100.65,511.46 102.73,511.50 104.80,511.52 106.88,511.54 108.96,511.56 111.03,511.58 113.11,511.60 115.19,511.62 117.27,511.63 119.34,511.65 121.42,511.67 123.50,511.69 125.57,511.71 127.65,511.73 129.73,511.75 131.81,511.75 133.88,511.75 135.96,511.76 138.04,511.76 140.11,511.76 142.19,511.76 144.27,511.77 146.34,511.77 148.42,511.77 150.50,511.77 152.57,511.78 154.65,511.78 156.73,511.78 158.81,511.78 160.88,511.79 162.96,511.79 165.04,511.79 167.11,511.79 169.19,511.80 171.27,511.80 173.34,511.80 175.42,511.80 177.50,511.81 179.58,511.81 181.65,511.81 183.73,511.81 185.81,511.82 187.88,511.82 189.96,511.82 192.04,511.82 194.12,511.83 196.19,511.83 198.27,511.83 200.35,511.83 202.42,511.84 204.50,511.84 206.58,511.84 208.65,511.84 210.73,511.85 212.81,511.85 214.88,511.85" fill="none" stroke="#FF8C00" stroke-width="2.30" stroke-linejoin="round" stroke-linecap="butt"/>
<path d="M258.90 297.20 V522.10 H452.53" fill="none" stroke="#000" stroke-width="1.25" stroke-linecap="round" stroke-linejoin="round"/>
<line x1="256.26" y1="512.20" x2="258.90" y2="512.20" stroke="#333333" stroke-width="1.15"/>
<text x="253.50" y="515.35" text-anchor="end" class="tk">0</text>
<line x1="256.26" y1="404.60" x2="258.90" y2="404.60" stroke="#333333" stroke-width="1.15"/>
<text x="253.50" y="407.75" text-anchor="end" class="tk">300</text>
<line x1="256.26" y1="360.20" x2="258.90" y2="360.20" stroke="#333333" stroke-width="1.15"/>
<text x="253.50" y="363.35" text-anchor="end" class="tk">600</text>
<line x1="256.26" y1="326.20" x2="258.90" y2="326.20" stroke="#333333" stroke-width="1.15"/>
<text x="253.50" y="329.35" text-anchor="end" class="tk">900</text>
<line x1="256.26" y1="297.50" x2="258.90" y2="297.50" stroke="#333333" stroke-width="1.15"/>
<text x="253.50" y="300.65" text-anchor="end" class="tk">1200</text>
<line x1="280.20" y1="522.10" x2="280.20" y2="525.00" stroke="#333333" stroke-width="1.15"/>
<text x="278.95" y="533.40" text-anchor="middle" class="tk">03−17</text>
<line x1="309.28" y1="522.10" x2="309.28" y2="525.00" stroke="#333333" stroke-width="1.15"/>
<text x="308.03" y="533.40" text-anchor="middle" class="tk">03−31</text>
<line x1="338.36" y1="522.10" x2="338.36" y2="525.00" stroke="#333333" stroke-width="1.15"/>
<text x="337.11" y="533.40" text-anchor="middle" class="tk">04−14</text>
<line x1="367.44" y1="522.10" x2="367.44" y2="525.00" stroke="#333333" stroke-width="1.15"/>
<text x="366.19" y="533.40" text-anchor="middle" class="tk">04−28</text>
<line x1="396.51" y1="522.10" x2="396.51" y2="525.00" stroke="#333333" stroke-width="1.15"/>
<text x="395.26" y="533.40" text-anchor="middle" class="tk">05−12</text>
<line x1="425.59" y1="522.10" x2="425.59" y2="525.00" stroke="#333333" stroke-width="1.15"/>
<text x="424.34" y="533.40" text-anchor="middle" class="tk">05−26</text>
<text x="355.72" y="545.80" text-anchor="middle" class="at">Time</text>
<text x="258.70" y="288.50" class="ti">(e) Completely Vaccinated</text>
<g fill="#000">
<circle cx="267.74" cy="345.90" r="2.20"/>
<circle cx="269.82" cy="354.30" r="2.20"/>
<circle cx="271.89" cy="374.80" r="2.20"/>
<circle cx="273.97" cy="398.50" r="2.20"/>
<circle cx="276.05" cy="404.20" r="2.20"/>
<circle cx="278.12" cy="358.70" r="2.20"/>
<circle cx="280.20" cy="330.50" r="2.20"/>
<circle cx="282.28" cy="339.60" r="2.20"/>
<circle cx="284.36" cy="369.90" r="2.20"/>
<circle cx="286.43" cy="380.40" r="2.20"/>
<circle cx="288.51" cy="405.50" r="2.20"/>
<circle cx="290.59" cy="389.00" r="2.20"/>
<circle cx="292.66" cy="365.20" r="2.20"/>
<circle cx="294.74" cy="353.30" r="2.20"/>
<circle cx="296.82" cy="344.20" r="2.20"/>
<circle cx="298.89" cy="344.50" r="2.20"/>
<circle cx="300.97" cy="365.50" r="2.20"/>
<circle cx="303.05" cy="381.60" r="2.20"/>
<circle cx="305.13" cy="383.40" r="2.20"/>
<circle cx="307.20" cy="339.60" r="2.20"/>
<circle cx="309.28" cy="332.50" r="2.20"/>
<circle cx="311.36" cy="317.80" r="2.20"/>
<circle cx="313.43" cy="329.70" r="2.20"/>
<circle cx="315.51" cy="343.20" r="2.20"/>
<circle cx="317.59" cy="370.00" r="2.20"/>
<circle cx="319.67" cy="367.70" r="2.20"/>
<circle cx="321.74" cy="323.00" r="2.20"/>
<circle cx="323.82" cy="309.00" r="2.20"/>
<circle cx="325.90" cy="306.70" r="2.20"/>
<circle cx="327.97" cy="322.10" r="2.20"/>
<circle cx="330.05" cy="336.70" r="2.20"/>
<circle cx="332.13" cy="375.00" r="2.20"/>
<circle cx="334.20" cy="370.00" r="2.20"/>
<circle cx="336.28" cy="318.30" r="2.20"/>
<circle cx="338.36" cy="307.60" r="2.20"/>
<circle cx="340.44" cy="317.60" r="2.20"/>
<circle cx="342.51" cy="325.00" r="2.20"/>
<circle cx="344.59" cy="380.00" r="2.20"/>
<circle cx="346.67" cy="380.50" r="2.20"/>
<circle cx="348.74" cy="416.40" r="2.20"/>
<circle cx="350.82" cy="414.70" r="2.20"/>
<circle cx="352.90" cy="312.40" r="2.20"/>
<circle cx="354.97" cy="313.80" r="2.20"/>
<circle cx="357.05" cy="346.40" r="2.20"/>
<circle cx="359.13" cy="335.00" r="2.20"/>
<circle cx="361.21" cy="385.30" r="2.20"/>
<circle cx="363.28" cy="403.30" r="2.20"/>
<circle cx="365.36" cy="362.70" r="2.20"/>
<circle cx="367.44" cy="351.10" r="2.20"/>
<circle cx="369.51" cy="367.40" r="2.20"/>
<circle cx="371.59" cy="366.90" r="2.20"/>
<circle cx="373.67" cy="383.40" r="2.20"/>
<circle cx="375.74" cy="419.00" r="2.20"/>
<circle cx="377.82" cy="413.80" r="2.20"/>
<circle cx="379.90" cy="383.40" r="2.20"/>
<circle cx="381.98" cy="380.20" r="2.20"/>
<circle cx="384.05" cy="381.90" r="2.20"/>
<circle cx="386.13" cy="388.80" r="2.20"/>
<circle cx="388.21" cy="398.00" r="2.20"/>
<circle cx="390.28" cy="420.30" r="2.20"/>
<circle cx="392.36" cy="422.20" r="2.20"/>
<circle cx="394.44" cy="395.20" r="2.20"/>
<circle cx="396.51" cy="387.50" r="2.20"/>
<circle cx="398.59" cy="392.80" r="2.20"/>
<circle cx="400.67" cy="410.20" r="2.20"/>
<circle cx="402.75" cy="406.80" r="2.20"/>
<circle cx="404.82" cy="428.70" r="2.20"/>
<circle cx="406.90" cy="427.40" r="2.20"/>
<circle cx="408.98" cy="409.90" r="2.20"/>
<circle cx="411.05" cy="408.50" r="2.20"/>
<circle cx="413.13" cy="408.90" r="2.20"/>
<circle cx="415.21" cy="418.20" r="2.20"/>
<circle cx="417.28" cy="425.20" r="2.20"/>
<circle cx="419.36" cy="447.10" r="2.20"/>
<circle cx="421.44" cy="447.40" r="2.20"/>
<circle cx="423.51" cy="439.70" r="2.20"/>
<circle cx="425.59" cy="423.90" r="2.20"/>
<circle cx="427.67" cy="431.60" r="2.20"/>
<circle cx="429.75" cy="426.00" r="2.20"/>
<circle cx="431.82" cy="433.40" r="2.20"/>
<circle cx="433.90" cy="452.00" r="2.20"/>
<circle cx="435.98" cy="446.70" r="2.20"/>
<circle cx="438.05" cy="426.00" r="2.20"/>
<circle cx="440.13" cy="431.60" r="2.20"/>
<circle cx="442.21" cy="436.20" r="2.20"/>
<circle cx="444.28" cy="432.70" r="2.20"/>
</g>
<polyline points="273.97,364.53 276.05,363.50 278.12,365.77 280.20,366.50 282.28,367.26 284.36,365.54 286.43,366.49 288.51,370.35 290.59,371.15 292.66,367.21 294.74,365.18 296.82,362.45 298.89,361.78 300.97,357.95 303.05,354.72 305.13,350.44 307.20,348.16 309.28,345.13 311.36,343.78 313.43,341.97 315.51,339.47 317.59,335.79 319.67,334.00 321.74,332.86 323.82,331.98 325.90,332.53 327.97,332.79 330.05,332.08 332.13,331.85 334.20,333.59 336.28,334.02 338.36,339.45 340.44,340.06 342.51,344.70 344.59,357.13 346.67,358.03 348.74,357.34 350.82,360.87 352.90,354.43 354.97,354.99 357.05,353.78 359.13,348.10 361.21,354.30 363.28,362.85 365.36,365.93 367.44,373.36 369.51,377.22 371.59,378.38 373.67,381.49 375.74,386.24 377.82,388.52 379.90,391.97 381.98,394.10 384.05,394.24 386.13,395.21 388.21,396.99 390.28,398.16 392.36,399.88 394.44,402.99 396.51,404.26 398.59,405.24 400.67,405.85 402.75,408.03 404.82,411.38 406.90,413.95 408.98,415.10 411.05,417.74 413.13,419.83 415.21,422.17 417.28,426.40 419.36,428.90 421.44,432.56 423.51,433.83 425.59,435.08 427.67,435.65 429.75,435.57 431.82,433.57 433.90,434.76 435.98,435.43 438.05,436.47" fill="none" stroke="#FF0000" stroke-width="3.3" stroke-dasharray="3.4 2.8" stroke-linejoin="round"/>
<polyline points="267.74,510.00 269.82,510.05 271.89,510.09 273.97,510.14 276.05,510.19 278.12,510.24 280.20,510.28 282.28,510.33 284.36,510.38 286.43,510.39 288.51,510.36 290.59,510.33 292.66,510.31 294.74,510.28 296.82,510.25 298.89,510.23 300.97,510.20 303.05,510.17 305.13,510.15 307.20,510.12 309.28,510.09 311.36,510.06 313.43,510.03 315.51,510.00 317.59,509.97 319.67,509.93 321.74,509.90 323.82,509.87 325.90,509.84 327.97,509.81 330.05,509.78 332.13,509.75 334.20,509.72 336.28,509.68 338.36,509.65 340.44,509.62 342.51,509.65 344.59,509.83 346.67,509.88 348.74,509.83 350.82,509.79 352.90,509.75 354.97,509.71 357.05,509.67 359.13,509.63 361.21,509.59 363.28,509.55 365.36,509.51 367.44,509.47 369.51,509.43 371.59,509.39 373.67,509.34 375.74,509.30 377.82,509.26 379.90,509.22 381.98,509.18 384.05,509.14 386.13,509.10 388.21,509.05 390.28,509.00 392.36,508.96 394.44,508.91 396.51,508.86 398.59,508.81 400.67,508.77 402.75,508.72 404.82,508.67 406.90,508.62 408.98,508.58 411.05,508.53 413.13,508.48 415.21,508.43 417.28,508.37 419.36,508.26 421.44,508.16 423.51,508.05 425.59,507.95 427.67,507.84 429.75,507.74 431.82,507.63 433.90,507.53 435.98,507.42 438.05,507.32 440.13,507.21 442.21,507.11 444.28,507.00" fill="none" stroke="#228B22" stroke-width="2.30" stroke-linejoin="round" stroke-linecap="butt"/>
<polyline points="267.74,507.30 269.82,507.60 271.89,507.91 273.97,508.21 276.05,508.51 278.12,508.82 280.20,509.08 282.28,509.29 284.36,509.51 286.43,509.72 288.51,509.93 290.59,510.14 292.66,510.27 294.74,510.38 296.82,510.49 298.89,510.60 300.97,510.70 303.05,510.81 305.13,510.92 307.20,511.03 309.28,511.12 311.36,511.17 313.43,511.22 315.51,511.26 317.59,511.31 319.67,511.37 321.74,511.42 323.82,511.46 325.90,511.51 327.97,511.56 330.05,511.62 332.13,511.66 334.20,511.71 336.28,511.76 338.36,511.81 340.44,511.86 342.51,511.90 344.59,511.90 346.67,511.90 348.74,511.90 350.82,511.90 352.90,511.91 354.97,511.91 357.05,511.91 359.13,511.91 361.21,511.91 363.28,511.91 365.36,511.91 367.44,511.91 369.51,511.91 371.59,511.91 373.67,511.92 375.74,511.92 377.82,511.92 379.90,511.92 381.98,511.92 384.05,511.92 386.13,511.92 388.21,511.92 390.28,511.92 392.36,511.92 394.44,511.93 396.51,511.93 398.59,511.93 400.67,511.93 402.75,511.93 404.82,511.93 406.90,511.93 408.98,511.93 411.05,511.93 413.13,511.93 415.21,511.94 417.28,511.94 419.36,511.94 421.44,511.94 423.51,511.94 425.59,511.94 427.67,511.94 429.75,511.94 431.82,511.94 433.90,511.94 435.98,511.95 438.05,511.95 440.13,511.95 442.21,511.95 444.28,511.95" fill="none" stroke="#FF8C00" stroke-width="2.30" stroke-linejoin="round" stroke-linecap="butt"/>
<path d="M488.15 297.20 V522.10 H681.74" fill="none" stroke="#000" stroke-width="1.25" stroke-linecap="round" stroke-linejoin="round"/>
<line x1="485.51" y1="512.20" x2="488.15" y2="512.20" stroke="#333333" stroke-width="1.15"/>
<text x="482.75" y="515.35" text-anchor="end" class="tk">0</text>
<line x1="485.51" y1="396.70" x2="488.15" y2="396.70" stroke="#333333" stroke-width="1.15"/>
<text x="482.75" y="399.85" text-anchor="end" class="tk">1000</text>
<line x1="485.51" y1="349.00" x2="488.15" y2="349.00" stroke="#333333" stroke-width="1.15"/>
<text x="482.75" y="352.15" text-anchor="end" class="tk">2000</text>
<line x1="485.51" y1="312.40" x2="488.15" y2="312.40" stroke="#333333" stroke-width="1.15"/>
<text x="482.75" y="315.55" text-anchor="end" class="tk">3000</text>
<line x1="509.40" y1="522.10" x2="509.40" y2="525.00" stroke="#333333" stroke-width="1.15"/>
<text x="508.15" y="533.40" text-anchor="middle" class="tk">03−17</text>
<line x1="538.48" y1="522.10" x2="538.48" y2="525.00" stroke="#333333" stroke-width="1.15"/>
<text x="537.23" y="533.40" text-anchor="middle" class="tk">03−31</text>
<line x1="567.56" y1="522.10" x2="567.56" y2="525.00" stroke="#333333" stroke-width="1.15"/>
<text x="566.31" y="533.40" text-anchor="middle" class="tk">04−14</text>
<line x1="596.64" y1="522.10" x2="596.64" y2="525.00" stroke="#333333" stroke-width="1.15"/>
<text x="595.39" y="533.40" text-anchor="middle" class="tk">04−28</text>
<line x1="625.71" y1="522.10" x2="625.71" y2="525.00" stroke="#333333" stroke-width="1.15"/>
<text x="624.46" y="533.40" text-anchor="middle" class="tk">05−12</text>
<line x1="654.79" y1="522.10" x2="654.79" y2="525.00" stroke="#333333" stroke-width="1.15"/>
<text x="653.54" y="533.40" text-anchor="middle" class="tk">05−26</text>
<text x="584.94" y="545.80" text-anchor="middle" class="at">Time</text>
<text x="487.95" y="288.50" class="ti">(f) Vaccinated with Booster Dose</text>
<g fill="#000">
<circle cx="496.94" cy="399.20" r="2.20"/>
<circle cx="499.02" cy="397.40" r="2.20"/>
<circle cx="501.09" cy="408.50" r="2.20"/>
<circle cx="503.17" cy="424.60" r="2.20"/>
<circle cx="505.25" cy="428.10" r="2.20"/>
<circle cx="507.32" cy="394.40" r="2.20"/>
<circle cx="509.40" cy="392.20" r="2.20"/>
<circle cx="511.48" cy="385.50" r="2.20"/>
<circle cx="513.56" cy="396.00" r="2.20"/>
<circle cx="515.63" cy="400.00" r="2.20"/>
<circle cx="517.71" cy="420.50" r="2.20"/>
<circle cx="519.79" cy="413.50" r="2.20"/>
<circle cx="521.86" cy="389.00" r="2.20"/>
<circle cx="523.94" cy="375.50" r="2.20"/>
<circle cx="526.02" cy="368.90" r="2.20"/>
<circle cx="528.10" cy="369.90" r="2.20"/>
<circle cx="530.17" cy="385.70" r="2.20"/>
<circle cx="532.25" cy="398.30" r="2.20"/>
<circle cx="534.33" cy="406.20" r="2.20"/>
<circle cx="536.40" cy="369.30" r="2.20"/>
<circle cx="538.48" cy="361.00" r="2.20"/>
<circle cx="540.56" cy="350.70" r="2.20"/>
<circle cx="542.63" cy="358.30" r="2.20"/>
<circle cx="544.71" cy="356.90" r="2.20"/>
<circle cx="546.79" cy="384.60" r="2.20"/>
<circle cx="548.87" cy="390.50" r="2.20"/>
<circle cx="550.94" cy="352.40" r="2.20"/>
<circle cx="553.02" cy="332.80" r="2.20"/>
<circle cx="555.10" cy="332.00" r="2.20"/>
<circle cx="557.17" cy="337.80" r="2.20"/>
<circle cx="559.25" cy="347.10" r="2.20"/>
<circle cx="561.33" cy="371.80" r="2.20"/>
<circle cx="563.40" cy="380.00" r="2.20"/>
<circle cx="565.48" cy="338.20" r="2.20"/>
<circle cx="567.56" cy="320.60" r="2.20"/>
<circle cx="569.63" cy="324.90" r="2.20"/>
<circle cx="571.71" cy="323.90" r="2.20"/>
<circle cx="573.79" cy="368.00" r="2.20"/>
<circle cx="575.87" cy="375.70" r="2.20"/>
<circle cx="577.94" cy="415.70" r="2.20"/>
<circle cx="580.02" cy="422.90" r="2.20"/>
<circle cx="582.10" cy="306.80" r="2.20"/>
<circle cx="584.17" cy="314.60" r="2.20"/>
<circle cx="586.25" cy="332.80" r="2.20"/>
<circle cx="588.33" cy="325.90" r="2.20"/>
<circle cx="590.40" cy="382.80" r="2.20"/>
<circle cx="592.48" cy="389.90" r="2.20"/>
<circle cx="594.56" cy="351.40" r="2.20"/>
<circle cx="596.64" cy="336.80" r="2.20"/>
<circle cx="598.71" cy="358.70" r="2.20"/>
<circle cx="600.79" cy="359.20" r="2.20"/>
<circle cx="602.87" cy="373.60" r="2.20"/>
<circle cx="604.94" cy="407.40" r="2.20"/>
<circle cx="607.02" cy="399.70" r="2.20"/>
<circle cx="609.10" cy="365.10" r="2.20"/>
<circle cx="611.17" cy="358.80" r="2.20"/>
<circle cx="613.25" cy="368.00" r="2.20"/>
<circle cx="615.33" cy="376.80" r="2.20"/>
<circle cx="617.41" cy="381.30" r="2.20"/>
<circle cx="619.48" cy="410.40" r="2.20"/>
<circle cx="621.56" cy="420.90" r="2.20"/>
<circle cx="623.64" cy="381.20" r="2.20"/>
<circle cx="625.71" cy="375.90" r="2.20"/>
<circle cx="627.79" cy="382.40" r="2.20"/>
<circle cx="629.87" cy="392.50" r="2.20"/>
<circle cx="631.94" cy="393.90" r="2.20"/>
<circle cx="634.02" cy="414.80" r="2.20"/>
<circle cx="636.10" cy="420.00" r="2.20"/>
<circle cx="638.18" cy="391.70" r="2.20"/>
<circle cx="640.25" cy="393.90" r="2.20"/>
<circle cx="642.33" cy="400.80" r="2.20"/>
<circle cx="644.41" cy="408.80" r="2.20"/>
<circle cx="646.48" cy="417.20" r="2.20"/>
<circle cx="648.56" cy="435.30" r="2.20"/>
<circle cx="650.64" cy="438.50" r="2.20"/>
<circle cx="652.72" cy="433.90" r="2.20"/>
<circle cx="654.79" cy="406.80" r="2.20"/>
<circle cx="656.87" cy="413.30" r="2.20"/>
<circle cx="658.95" cy="418.70" r="2.20"/>
<circle cx="661.02" cy="424.00" r="2.20"/>
<circle cx="663.10" cy="443.90" r="2.20"/>
<circle cx="665.18" cy="444.10" r="2.20"/>
<circle cx="667.25" cy="421.30" r="2.20"/>
<circle cx="669.33" cy="417.20" r="2.20"/>
<circle cx="671.41" cy="425.20" r="2.20"/>
<circle cx="673.49" cy="430.10" r="2.20"/>
</g>
<polyline points="503.17,405.48 505.25,403.30 507.32,403.09 509.40,401.89 511.48,401.42 513.56,399.71 515.63,398.89 517.71,396.22 519.79,393.49 521.86,389.49 523.94,387.52 526.02,384.94 528.10,384.10 530.17,381.21 532.25,378.95 534.33,376.01 536.40,374.22 538.48,370.08 540.56,368.43 542.63,366.66 544.71,364.17 546.79,359.74 548.87,356.78 550.94,353.71 553.02,352.30 555.10,350.78 557.17,349.60 559.25,347.54 561.33,345.58 563.40,344.47 565.48,342.33 567.56,345.07 569.63,345.54 571.71,349.07 573.79,359.14 575.87,356.60 577.94,354.79 580.02,356.28 582.10,350.03 584.17,350.87 586.25,348.39 588.33,340.78 590.40,345.61 592.48,352.38 594.56,356.36 596.64,363.63 598.71,366.42 600.79,367.56 602.87,369.65 604.94,373.33 607.02,374.76 609.10,377.42 611.17,378.53 613.25,378.86 615.33,381.19 617.41,383.66 619.48,386.44 621.56,388.70 623.64,391.04 625.71,392.91 627.79,393.43 629.87,393.33 631.94,394.93 634.02,397.76 636.10,400.56 638.18,402.92 640.25,406.21 642.33,408.65 644.41,410.78 646.48,416.88 648.56,419.06 650.64,421.10 652.72,422.65 654.79,423.65 656.87,424.66 658.95,425.31 661.02,423.57 663.10,425.27 665.18,427.11 667.25,428.81" fill="none" stroke="#FF0000" stroke-width="3.3" stroke-dasharray="3.4 2.8" stroke-linejoin="round"/>
<polyline points="496.94,510.80 499.02,510.77 501.09,510.74 503.17,510.72 505.25,510.69 507.32,510.66 509.40,510.63 511.48,510.60 513.56,510.57 515.63,510.55 517.71,510.52 519.79,510.49 521.86,510.46 523.94,510.43 526.02,510.40 528.10,510.38 530.17,510.35 532.25,510.32 534.33,510.30 536.40,510.29 538.48,510.28 540.56,510.27 542.63,510.26 544.71,510.25 546.79,510.23 548.87,510.22 550.94,510.21 553.02,510.20 555.10,510.19 557.17,510.18 559.25,510.17 561.33,510.16 563.40,510.15 565.48,510.14 567.56,510.13 569.63,510.12 571.71,510.11 573.79,510.10 575.87,510.07 577.94,510.03 580.02,510.00 582.10,509.96 584.17,509.93 586.25,509.89 588.33,509.86 590.40,509.82 592.48,509.79 594.56,509.75 596.64,509.72 598.71,509.68 600.79,509.65 602.87,509.61 604.94,509.58 607.02,509.54 609.10,509.51 611.17,509.47 613.25,509.44 615.33,509.40 617.41,509.37 619.48,509.33 621.56,509.30 623.64,509.24 625.71,509.19 627.79,509.13 629.87,509.07 631.94,509.02 634.02,508.96 636.10,508.91 638.18,508.85 640.25,508.79 642.33,508.74 644.41,508.68 646.48,508.62 648.56,508.57 650.64,508.51 652.72,508.46 654.79,508.40 656.87,508.38 658.95,508.36 661.02,508.33 663.10,508.31 665.18,508.29 667.25,508.27 669.33,508.24 671.41,508.22 673.49,508.20" fill="none" stroke="#228B22" stroke-width="2.30" stroke-linejoin="round" stroke-linecap="butt"/>
<polyline points="496.94,508.90 499.02,509.05 501.09,509.21 503.17,509.36 505.25,509.51 507.32,509.66 509.40,509.82 511.48,509.97 513.56,510.08 515.63,510.19 517.71,510.29 519.79,510.40 521.86,510.50 523.94,510.61 526.02,510.71 528.10,510.82 530.17,510.92 532.25,511.03 534.33,511.11 536.40,511.14 538.48,511.17 540.56,511.20 542.63,511.23 544.71,511.26 546.79,511.29 548.87,511.32 550.94,511.35 553.02,511.37 555.10,511.40 557.17,511.43 559.25,511.46 561.33,511.49 563.40,511.52 565.48,511.55 567.56,511.58 569.63,511.61 571.71,511.64 573.79,511.67 575.87,511.70 577.94,511.73 580.02,511.76 582.10,511.79 584.17,511.82 586.25,511.85 588.33,511.88 590.40,511.90 592.48,511.91 594.56,511.91 596.64,511.92 598.71,511.92 600.79,511.93 602.87,511.93 604.94,511.94 607.02,511.94 609.10,511.95 611.17,511.95 613.25,511.96 615.33,511.96 617.41,511.97 619.48,511.97 621.56,511.98 623.64,511.98 625.71,511.99 627.79,511.99 629.87,512.00 631.94,512.00 634.02,512.01 636.10,512.01 638.18,512.02 640.25,512.02 642.33,512.03 644.41,512.03 646.48,512.04 648.56,512.04 650.64,512.05 652.72,512.05 654.79,512.06 656.87,512.06 658.95,512.07 661.02,512.07 663.10,512.08 665.18,512.08 667.25,512.09 669.33,512.09 671.41,512.10 673.49,512.10" fill="none" stroke="#FF8C00" stroke-width="2.30" stroke-linejoin="round" stroke-linecap="butt"/>
<line x1="87.8" y1="565.40" x2="121.8" y2="565.40" stroke="#FF0000" stroke-width="3.4" stroke-dasharray="3.6 2.6"/>
<text x="130.6" y="569.0" class="lg">Centered 7−day moving average of case counts</text>
<line x1="326.2" y1="565.40" x2="360.0" y2="565.40" stroke="#FF8C00" stroke-width="2.30"/>
<text x="369.0" y="569.0" class="lg">Vaccination−stratified SIR model fit</text>
<line x1="514.8" y1="565.40" x2="547.8" y2="565.40" stroke="#228B22" stroke-width="2.30"/>
<text x="557.2" y="569.0" class="lg">SV<tspan class="sup" dy="-3.6">2</tspan><tspan dy="3.6">(AIR)</tspan><tspan class="sup" dy="-3.6">3</tspan><tspan dy="3.6"> model fit</tspan></text>
</svg>
</body></html>
